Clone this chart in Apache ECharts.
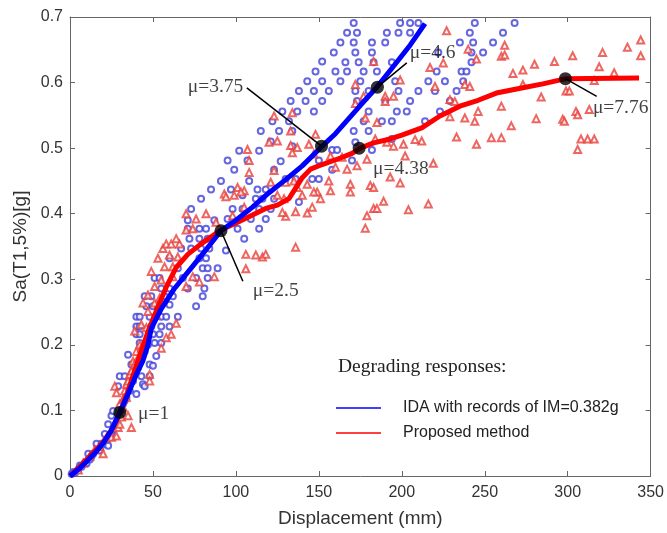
<!DOCTYPE html>
<html><head><meta charset="utf-8">
<script src="https://cdn.jsdelivr.net/npm/echarts@6.0.0/dist/echarts.min.js"></script>
<style>html,body{margin:0;padding:0;background:#fff}#c{width:667px;height:533px}</style>
</head><body><div id="c"></div><script>
const xMin = 0, xMax = 350, xStep = 50;
const yMin = 0, yMax = 0.7, yStep = 0.1;
const xTitle = 'Displacement (mm)';
const yTitle = 'Sa(T1,5%)[g]';
const legendTitle = 'Degrading responses:';
const blueName = 'IDA with records of IM=0.382g';
const redName = 'Proposed method';

const blueLine = [[0,0],[5,0.01],[10,0.022],[15,0.035],[20,0.05],[25,0.07],[30,0.097],[35,0.125],[40,0.155],[44,0.176],[47,0.2],[49,0.225],[55,0.255],[63,0.286],[74,0.32],[82,0.345],[91,0.374],[100,0.39],[110,0.41],[120,0.432],[130,0.452],[140,0.473],[152,0.503],[160,0.522],[168,0.545],[176,0.568],[185,0.593],[195,0.625],[205,0.657],[214,0.69]];
const redLine = [[0,0],[5,0.012],[10,0.025],[15,0.038],[20,0.052],[25,0.07],[30,0.095],[35,0.13],[41,0.176],[47,0.22],[53,0.258],[58,0.288],[64,0.318],[71,0.338],[79,0.354],[91,0.375],[102,0.388],[110,0.398],[118,0.408],[125,0.413],[132,0.423],[140,0.455],[145,0.468],[152,0.475],[163,0.485],[170,0.492],[175,0.5],[183,0.508],[193,0.514],[200,0.52],[212,0.531],[223,0.549],[235,0.564],[246,0.573],[257,0.584],[273,0.592],[285,0.598],[299,0.606],[343,0.607]];

const blueCircles = [
[1,.003],[2,.006],[3,.005],[5,.01],[6,.016],[7,.014],[9,.02],[10,.019],[11,.034],[12,.025],[13,.03],[14,.034],[16,.049],[17,.04],[18,.039],[19,.049],[20,.048],[21,.064],[22,.055],[23,.046],[23,.079],[24,.06],[25,.064],[25,.092],[26,.099],[26,.07],[28,.08],[29,.137],[30,.152],[31,.1],[32,.11],[33,.115],[33,.152],[34,.12],[35,.185],[36,.13],[37,.17],[38,.145],[39,.155],[40,.125],[41,.165],[43,.152],[43,.18],[44,.14],[44,.185],[45,.137],[45,.19],[47,.2],[48,.17],[48,.152],[50,.168],[52,.183],
[40,.216],[42,.203],[50,.216],[51,.203],[54,.216],[55,.203],[42,.216],
[40,.228],[42,.228],[49,.228],[55,.228],[60,.228],[40,.243],[42,.243],[48,.243],[55,.243],[58,.243],[65,.243],[46,.259],[50,.259],[53,.256],[60,.261],[76,.259],[45,.274],[49,.274],[57,.274],[62,.274],[80,.274],[55,.286],[60,.286],[71,.286],[81,.286],[51,.302],[54,.302],[68,.302],[76,.302],[83,.302],[65,.317],[80,.317],[83,.317],[89,.317],[60,.332],[78,.332],[82,.332],[94,.344],
[67,.347],[73,.347],[79,.347],[84,.347],[72,.362],[78,.362],[83,.362],[105,.362],[71,.377],[78,.377],[82,.377],[101,.377],[114,.377],[71,.39],[87,.39],[95,.392],[109,.392],[118,.392],[73,.407],[98,.407],[104,.407],[114,.407],[121,.407],[138,.418],[79,.423],[104,.428],[112,.423],[116,.423],[123,.423],[85,.437],[97,.437],[113,.437],[118,.437],[91,.45],[108,.45],[130,.453],[136,.453],[146,.453],[150,.453],[99,.467],[123,.467],[95,.481],[107,.481],[127,.48],[150,.481],[102,.496],[114,.496],[121,.51],[134,.503],[115,.526],[126,.526],[134,.526],[122,.541],[132,.541],[128,.556],[137,.556],[147,.556],[133,.572],[142,.572],[152,.572],[138,.587],[147,.587],[156,.587],[143,.602],[152,.602],[148,.617],[152,.632],
[171,.691],[199,.691],[205,.691],[210,.691],[244,.691],[268,.691],[167,.676],[173,.676],[191,.676],[198,.676],[205,.676],[241,.676],[261,.676],[163,.661],[171,.661],[182,.661],[190,.661],[235,.661],[243,.661],[255,.661],[159,.646],[172,.646],[182,.646],[222,.646],[242,.646],[249,.646],[166,.631],[174,.631],[183,.631],[194,.631],[242,.631],[160,.617],[167,.617],[177,.617],[185,.617],[221,.617],[236,.617],[239,.617],[163,.602],[175,.602],[196,.602],[216,.602],[226,.602],[237,.602],[172,.587],[180,.587],[198,.587],[210,.587],[220,.587],[233,.587],[173,.572],[190,.572],[205,.572],[229,.572],[180,.556],[197,.556],[203,.556],[223,.556],[177,.541],[188,.541],[194,.541],[214,.541],[171,.526],[180,.526],[194,.514],[158,.497],[161,.497],[172,.509],[182,.497],[158,.467],[170,.481]
];

const redTriangles = [
[5,.009],[8,.02],[12,.03],[15,.04],[18,.045],[20,.034],[22,.058],[24,.065],[25,.059],[27,.08],[28,.061],[29,.074],[30,.079],[30,.11],[31,.09],[32,.105],[32,.117],[33,.12],[33,.13],[34,.12],[34,.14],[35,.092],[35,.145],[36,.155],[37,.074],[37,.16],[38,.175],[39,.17],[40,.19],[41,.18],[42,.2],[43,.195],[27,.137],[28,.127],[48,.155],[48,.145],[55,.195],[58,.211],
[39,.221],[43,.231],[46,.226],[61,.216],[64,.233],[44,.264],[47,.251],[47,.276],[51,.264],[52,.246],[54,.271],[51,.289],[49,.312],[55,.299],[62,.304],[70,.289],[53,.332],[57,.319],[62,.319],[60,.337],[65,.334],[56,.347],[58,.354],[61,.354],[66,.354],[64,.362],[70,.375],[74,.377],[70,.4],[76,.392],[82,.4],[88,.387],[74,.304],[78,.296],[87,.304],[93,.43],
[106,.338],[106,.316],[112,.337],[116,.334],[118,.338],[98,.397],[105,.41],
[169,.433],[149,.433],[146,.41],[136,.403],[143,.401],[130,.396],[128,.402],[136,.349],[178,.378],[179,.397],[183,.408],[185,.408],[189,.419],[204,.406],[216,.415],
[183,.632],[172,.597],[172,.568],[178,.546],[177,.579],[190,.579],[190,.571],[195,.579],[185,.539],[191,.509],[184,.514],[179,.483],[167,.468],[173,.473],[164,.486],[160,.471],[157,.488],[148,.521],[144,.506],[147,.491],[133,.526],[134,.554],[123,.549],[125,.511],[133,.504],[137,.501],[134,.493],[120,.509],[108,.481],[108,.463],[123,.466],[121,.448],[130,.448],[137,.44],[143,.445],[147,.433],[151,.423],[135,.45],[101,.44],[105,.435],[125,.428],[129,.423],[140,.428],[157,.435],[156,.45],[169,.445],[181,.443],[193,.456],[183,.44],[107,.498],[94,.426],[99,.428],[103,.433],
[227,.679],
[344,.665],[336,.654],[344,.641],[321,.646],[303,.641],[292,.632],[280,.628],[273,.619],[267,.614],[262,.657],[260,.64],[319,.624],[328,.615],[316,.603],[299,.587],[301,.587],[273,.597],[284,.578],[260,.564],[246,.556],[305,.556],[306,.551],[313,.559],[281,.545],[297,.544],[298,.541],[244,.541],[238,.546],[266,.534],[308,.514],[312,.514],[316,.514],[306,.498],[260,.516],[254,.516],[245,.506],[233,.517],[219,.477],[202,.488],[199,.447],[212,.511],[208,.513],[201,.506],[195,.503],[229,.548],[229,.574],[232,.571],[238,.597],[241,.594],[225,.63],[240,.651],[245,.636],[262,.642],[217,.623],[220,.594],[199,.604]
];

const blueKeyPoints = [[30,0.097],[91,0.374],[151.6,0.503],[185.3,0.593]];
const redKeyPoints = [[174.3,0.5],[298.6,0.606]];
const annotLabels = [
  {text:'μ=1', at:[41,0.095], side:'right'},
  {text:'μ=2.5', at:[110.2,0.282], side:'right'},
  {text:'μ=3.75', at:[104.5,0.593], side:'left'},
  {text:'μ=4.6', at:[204.8,0.645], side:'right'},
  {text:'μ=4.38', at:[182.7,0.468], side:'right'},
  {text:'μ=7.76', at:[315.2,0.562], side:'right'}
];
const leaderLines = [
  [[91,0.374],[104.2,0.297]],
  [[106.6,0.592],[151.6,0.503]],
  [[185.3,0.593],[203,0.63]],
  [[298.6,0.606],[317.5,0.579]]
];

const axisColor = '#666';
const sans = 'Liberation Sans, Arial, sans-serif';
const serif = 'Liberation Serif, Times New Roman, serif';

function xAxisCfg(pos, main) {
  return {
    type:'value', min:xMin, max:xMax, interval:xStep, position:pos,
    axisLine:{show:true, onZero:false, lineStyle:{color:axisColor, width:1}},
    axisTick:{show:true, inside:true, length:5, lineStyle:{color:axisColor}},
    axisLabel:{show:main, margin:9, fontSize:16, color:'#333', fontFamily:sans},
    splitLine:{show:false},
    name: main ? xTitle : '', nameLocation:'middle', nameGap:33,
    nameTextStyle:{fontSize:19, color:'#333', fontFamily:sans}
  };
}
function yAxisCfg(pos, main) {
  return {
    type:'value', min:yMin, max:yMax, interval:yStep, position:pos,
    axisLine:{show:true, onZero:false, lineStyle:{color:axisColor, width:1}},
    axisTick:{show:true, inside:true, length:5, lineStyle:{color:axisColor}},
    axisLabel:{show:main, margin:7, fontSize:16, color:'#333', fontFamily:sans,
      formatter: v => String(+v.toFixed(1))},
    splitLine:{show:false},
    name: main ? yTitle : '', nameLocation:'middle', nameGap:38,
    nameTextStyle:{fontSize:19, color:'#333', fontFamily:sans}
  };
}

const chart = echarts.init(document.getElementById('c'), null, {renderer:'canvas'});
chart.setOption({
  backgroundColor:'#fff',
  animation:false,
  title:{text:legendTitle, left:338, top:357, padding:0,
    textStyle:{fontFamily:serif, fontWeight:'normal', fontSize:19.5, color:'#222'}},
  legend:{
    data:[blueName, redName], orient:'vertical', left:336, top:400, padding:0,
    itemWidth:45, itemHeight:1.5, itemGap:9, icon:'rect',
    textStyle:{fontFamily:sans, fontSize:16, color:'#222', padding:[0,0,0,17]}
  },
  grid:{left:70, right:16, top:17, bottom:54, containLabel:false},
  xAxis:[xAxisCfg('bottom', true), xAxisCfg('top', false)],
  yAxis:[yAxisCfg('left', true), yAxisCfg('right', false)],
  series:[
    {type:'scatter', name:'IDA points', data:blueCircles, symbol:'emptyCircle', symbolSize:6,
      itemStyle:{color:'#4040d8', borderWidth:1}, silent:true, z:2},
    {type:'scatter', name:'Proposed points', data:redTriangles, symbol:'emptyTriangle', symbolSize:7,
      itemStyle:{color:'#e8403a', borderWidth:1}, silent:true, z:2},
    {type:'line', name:redName, data:redLine, showSymbol:false, color:'#ff0000',
      lineStyle:{color:'#ff0000', width:5}, z:3},
    {type:'line', name:blueName, data:blueLine, showSymbol:false, color:'#0000ff',
      lineStyle:{color:'#0000ff', width:5}, z:4},
    {type:'lines', coordinateSystem:'cartesian2d', silent:true, z:5,
      data:leaderLines.map(c => ({coords:c})),
      lineStyle:{color:'#000', width:1.5, opacity:1}},
    {type:'scatter', data:blueKeyPoints.concat(redKeyPoints), symbol:'circle', symbolSize:13,
      itemStyle:{color:'#000'}, silent:true, z:6},
    {type:'scatter', silent:true, z:7, symbolSize:0,
      data:annotLabels.map(a => ({value:a.at, name:a.text,
        label:{show:true, position:a.side, distance:0}})),
      label:{formatter:'{b}', fontFamily:serif, fontSize:19.5, color:'#111'}}
  ]
});
</script></body></html>
